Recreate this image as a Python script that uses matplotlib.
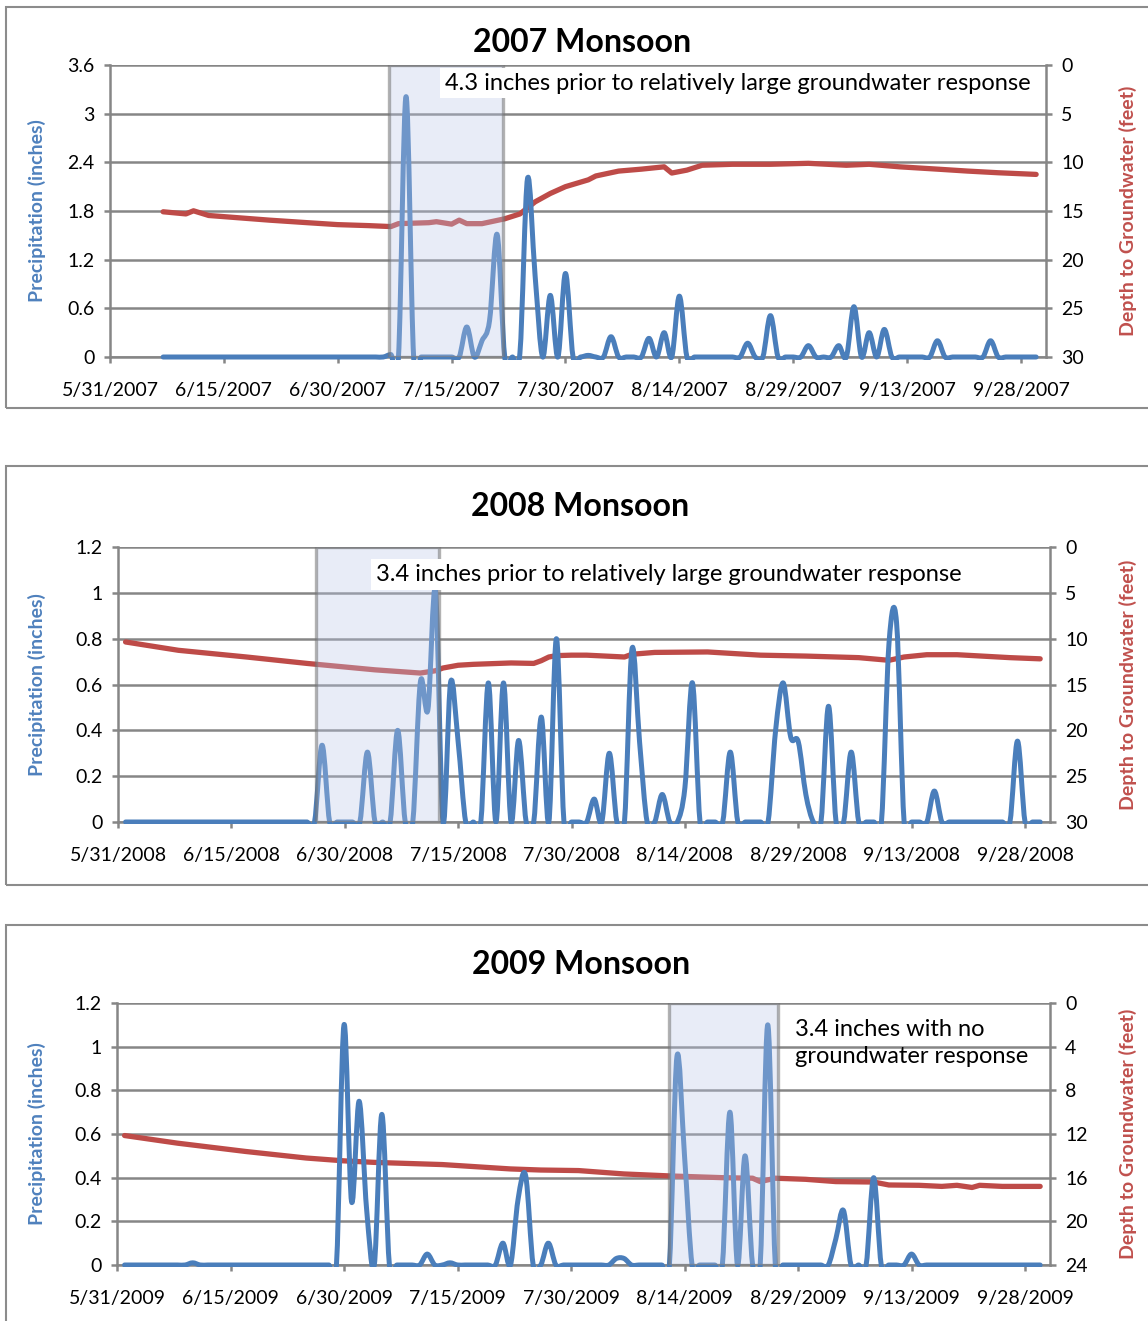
import numpy as np
import pandas as pd
import matplotlib.dates as mdates
from matplotlib import pyplot as plt
from matplotlib import rcParams
from matplotlib.patches import Rectangle, PathPatch
from matplotlib.path import Path

rcParams['font.family'] = ['Lato', 'DejaVu Sans']

#%% values
years = [2007, 2008, 2009]

# rain days as (m/d, inches); every other day of the record is 0
rain07 = [('7/7', 0.03), ('7/9', 3.21), ('7/17', 0.37), ('7/19', 0.20), ('7/20', 0.45),
          ('7/21', 1.51), ('7/24', 0.05), ('7/25', 2.20), ('7/26', 1.00), ('7/28', 0.76),
          ('7/30', 1.03), ('8/2', 0.02), ('8/5', 0.25), ('8/10', 0.23), ('8/12', 0.30),
          ('8/14', 0.75), ('8/23', 0.17), ('8/26', 0.51), ('8/31', 0.14), ('9/4', 0.14),
          ('9/6', 0.62), ('9/8', 0.30), ('9/10', 0.34), ('9/17', 0.20), ('9/24', 0.20)]
rain08 = [('6/27', 0.335), ('7/3', 0.305), ('7/7', 0.40), ('7/10', 0.61), ('7/11', 0.49),
          ('7/12', 1.01), ('7/14', 0.61), ('7/15', 0.35), ('7/19', 0.607), ('7/21', 0.607),
          ('7/23', 0.356), ('7/26', 0.458), ('7/28', 0.80), ('8/2', 0.10), ('8/4', 0.30),
          ('8/7', 0.756), ('8/8', 0.35), ('8/11', 0.12), ('8/14', 0.15), ('8/15', 0.607),
          ('8/20', 0.305), ('8/26', 0.40), ('8/27', 0.607), ('8/28', 0.37), ('8/29', 0.35),
          ('8/30', 0.12), ('9/2', 0.505), ('9/5', 0.305), ('9/10', 0.78), ('9/11', 0.87),
          ('9/16', 0.135), ('9/27', 0.353)]
rain09 = [('6/10', 0.01), ('6/30', 1.10), ('7/1', 0.29), ('7/2', 0.75), ('7/3', 0.25),
          ('7/5', 0.69), ('7/11', 0.05), ('7/14', 0.01), ('7/21', 0.10), ('7/23', 0.30),
          ('7/24', 0.41), ('7/27', 0.10), ('8/5', 0.03), ('8/6', 0.03), ('8/13', 0.955),
          ('8/14', 0.50), ('8/20', 0.70), ('8/22', 0.50), ('8/25', 1.10), ('9/3', 0.12),
          ('9/4', 0.25), ('9/8', 0.40), ('9/13', 0.05)]

# depth to groundwater (m/d, feet)
depth07 = [('6/7', 15.08), ('6/10', 15.3), ('6/11', 14.98), ('6/13', 15.46), ('6/17', 15.7),
           ('6/21', 15.94), ('6/26', 16.2), ('6/30', 16.4), ('7/4', 16.5), ('7/7', 16.6),
           ('7/8', 16.3), ('7/12', 16.2), ('7/13', 16.1), ('7/15', 16.35), ('7/16', 15.94),
           ('7/17', 16.3), ('7/19', 16.3), ('7/22', 15.8), ('7/24', 15.3), ('7/26', 14.06),
           ('7/28', 13.2), ('7/30', 12.5), ('8/2', 11.8), ('8/3', 11.4), ('8/6', 10.9),
           ('8/9', 10.7), ('8/12', 10.46), ('8/13', 11.1), ('8/15', 10.8), ('8/17', 10.3),
           ('8/21', 10.2), ('8/26', 10.2), ('8/31', 10.1), ('9/5', 10.3), ('9/8', 10.2),
           ('9/12', 10.46), ('9/17', 10.7), ('9/21', 10.9), ('9/25', 11.07), ('9/30', 11.24)]
depth08 = [('6/1', 10.36), ('6/8', 11.27), ('6/17', 12.0), ('6/25', 12.7), ('7/4', 13.4),
           ('7/10', 13.75), ('7/12', 13.5), ('7/13', 13.2), ('7/15', 12.9), ('7/17', 12.8),
           ('7/22', 12.65), ('7/25', 12.7), ('7/26', 12.4), ('7/27', 12.0), ('7/28', 11.85),
           ('7/30', 11.8), ('8/1', 11.8), ('8/6', 12.0), ('8/7', 11.7), ('8/10', 11.5),
           ('8/17', 11.45), ('8/24', 11.8), ('8/30', 11.9), ('9/6', 12.07), ('9/10', 12.36),
           ('9/12', 12.0), ('9/15', 11.75), ('9/19', 11.75), ('9/26', 12.07), ('9/30', 12.2)]
depth09 = [('6/1', 12.14), ('6/8', 12.84), ('6/17', 13.6), ('6/25', 14.2), ('6/30', 14.46),
           ('7/4', 14.6), ('7/13', 14.8), ('7/22', 15.2), ('7/26', 15.3), ('7/31', 15.35),
           ('8/6', 15.66), ('8/12', 15.84), ('8/19', 16.0), ('8/23', 16.05), ('8/24', 16.36),
           ('8/26', 16.05), ('8/30', 16.15), ('9/3', 16.36), ('9/8', 16.4), ('9/10', 16.67),
           ('9/14', 16.7), ('9/17', 16.8), ('9/19', 16.7), ('9/21', 16.9), ('9/22', 16.7),
           ('9/25', 16.8), ('9/30', 16.8)]

record = [('6/7', '9/30'), ('6/1', '9/30'), ('6/1', '9/30')]
shade = [('7/6 17:00', '7/21 17:00'), ('6/26 05:00', '7/12 12:00'), ('8/11 22:00', '8/26 07:00')]
notes = ['4.3 inches prior to relatively large groundwater response',
         '3.4 inches prior to relatively large groundwater response',
         '3.4 inches with no\ngroundwater response']
prcp_ticks = [[0, 0.6, 1.2, 1.8, 2.4, 3, 3.6],
              [0, 0.2, 0.4, 0.6, 0.8, 1, 1.2],
              [0, 0.2, 0.4, 0.6, 0.8, 1, 1.2]]
depth_ticks = [[0, 5, 10, 15, 20, 25, 30],
               [0, 5, 10, 15, 20, 25, 30],
               [0, 4, 8, 12, 16, 20, 24]]

rains = [rain07, rain08, rain09]
depths = [depth07, depth08, depth09]

#%% styling / layout
BLUE = '#4A7EBB'
RED = '#BE4B48'
GRID = '#868686'
W, H = 1148, 1321

# axes boxes in pixels: left, top, right, bottom
ax_px = [(110, 65, 1046, 357), (118, 547, 1050, 822), (117, 1003, 1050, 1265)]
title_px = [(582, 43), (580, 506), (581, 965)]
frame_px = [(6, 7, 408), (6, 466, 885), (6, 925, 1345)]
note_pos = [(0.358, 0.938), (0.277, 0.900), (0.727, 0.847)]
note_box = [True, True, False]


def day(year, md):
    return pd.Timestamp(f'{year}/{md}')


def smooth_path(x, y):
    # Excel-style "smoothed line": cubic Bezier through every point
    px = np.concatenate([[x[0]], x, [x[-1]]])
    py = np.concatenate([[y[0]], y, [y[-1]]])
    verts = [(x[0], y[0])]
    codes = [Path.MOVETO]
    for i in range(1, len(x)):
        c1 = (px[i] + (px[i+1]-px[i-1])/6, py[i] + (py[i+1]-py[i-1])/6)
        c2 = (px[i+1] - (px[i+2]-px[i])/6, py[i+1] - (py[i+2]-py[i])/6)
        verts += [c1, c2, (px[i+1], py[i+1])]
        codes += [Path.CURVE4]*3
    return Path(verts, codes)


fig = plt.figure(figsize=(W/100, H/100), dpi=100)

for i, yr in enumerate(years):
    l, t, r, b = ax_px[i]
    ax2 = fig.add_axes([l/W, 1-b/H, (r-l)/W, (b-t)/H])
    ax = ax2.twinx()   # precipitation drawn on top of groundwater
    ax.yaxis.tick_left()
    ax2.yaxis.tick_right()

    start = pd.Timestamp(f'{yr}-05-31')
    xlim = (start, start + pd.Timedelta(days=123.3))

    # groundwater depth
    gd = [day(yr, md) for md, v in depths[i]]
    gv = [v for md, v in depths[i]]
    ax2.plot(gd, gv, color=RED, lw=3.8, solid_joinstyle='round',
             solid_capstyle='round', zorder=3)

    # daily precipitation
    idx = pd.date_range(day(yr, record[i][0]), day(yr, record[i][1]), freq='D')
    prcp = pd.Series(0.0, index=idx)
    for md, v in rains[i]:
        prcp[day(yr, md)] = v
    ax.plot(xlim, [0, 0], alpha=0)   # registers the date units on the axis
    pth = smooth_path(mdates.date2num(prcp.index), prcp.values)
    pp = PathPatch(pth, facecolor='none', edgecolor=BLUE, lw=3.6,
                   capstyle='round', joinstyle='round', zorder=3)
    ax.add_patch(pp)
    pp.set_clip_path(Rectangle((0, -0.009), 1, 1.02, transform=ax.transAxes))

    # axes
    xt = pd.date_range(start, periods=9, freq='15D')
    for a in (ax, ax2):
        a.set_xlim(*xlim)
        for s in a.spines.values():
            s.set_visible(False)
    ax2.set_xticks(xt)
    ax2.set_xticklabels([f'{d.month}/{d.day}/{d.year}' for d in xt])

    ax.set_ylim(0, prcp_ticks[i][-1])
    ax.set_yticks(prcp_ticks[i])
    ax.set_yticklabels([f'{v:g}' for v in prcp_ticks[i]])
    ax2.set_ylim(depth_ticks[i][-1], 0)
    ax2.set_yticks(depth_ticks[i])
    ax2.set_yticklabels([f'{v:d}' for v in depth_ticks[i]])
    ax2.yaxis.grid(True, color=GRID, lw=1.8, zorder=0)
    ax2.set_axisbelow(True)

    ax.spines['left'].set_visible(True)
    ax.spines['bottom'].set_visible(True)
    ax2.spines['right'].set_visible(True)
    for s in (ax.spines['left'], ax.spines['bottom'], ax2.spines['right']):
        s.set_color(GRID)
        s.set_linewidth(1.8)

    ax2.tick_params(axis='x', direction='out', length=4, width=1.8, color=GRID,
                    labelsize=14, pad=14)
    ax.tick_params(axis='y', direction='out', length=4, width=1.8, color=GRID,
                   labelsize=14, pad=7)
    ax2.tick_params(axis='y', direction='out', length=4, width=1.8, color=GRID,
                    labelsize=14, pad=7)

    # window shading
    ax.axvspan(day(yr, shade[i][0]), day(yr, shade[i][1]),
               facecolor=(0.733, 0.780, 0.910, 0.33),
               edgecolor=(0.45, 0.45, 0.45, 0.55), lw=2.4, zorder=4)

    nx, ny = note_pos[i]
    box = dict(boxstyle='square,pad=0.2', facecolor='white', edgecolor='none') if note_box[i] else None
    ax.text(nx, ny, notes[i], transform=ax.transAxes, fontsize=17, ha='left', va='center',
            linespacing=1.32, zorder=6, bbox=box)

    # titles, axis labels, frame
    tx, ty = title_px[i]
    fig.text(tx/W, 1-ty/H, f'{yr} Monsoon', fontsize=23, fontweight='bold',
             ha='center', va='center')
    yc = 1 - (t+b)/2/H
    fig.text(37/W, yc, 'Precipitation (inches)', color='#4F81BD', fontsize=14,
             fontweight='bold', rotation=90, ha='center', va='center')
    fig.text(1128/W, yc, 'Depth to Groundwater (feet)', color='#C0504D', fontsize=14,
             fontweight='bold', rotation=90, ha='center', va='center')

    fx, ft, fb = frame_px[i]
    fig.add_artist(Rectangle((fx/W, 1-fb/H), 1.2, (fb-ft)/H, transform=fig.transFigure,
                             fill=False, edgecolor='#8C8C8C', lw=1.5))

fig.savefig('out.png', dpi=100)
